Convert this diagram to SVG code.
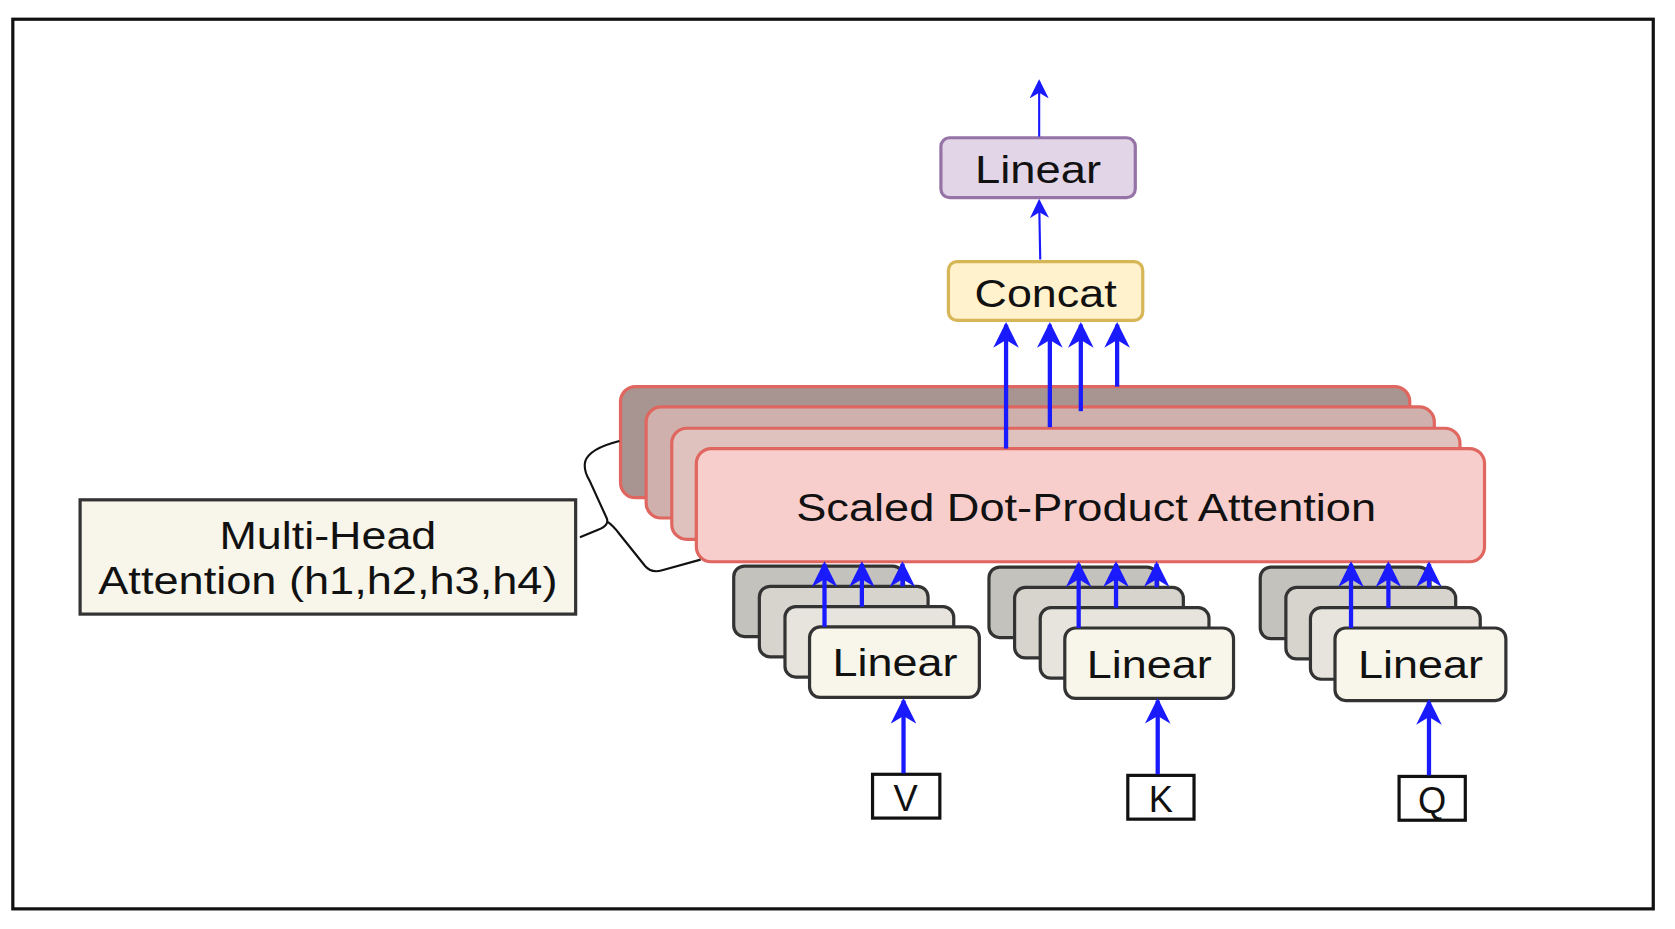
<svg xmlns="http://www.w3.org/2000/svg" width="1675" height="929" viewBox="0 0 1675 929">
<defs>
<marker id="ab" viewBox="0 0 10 10" refX="9" refY="5" markerWidth="6" markerHeight="6" orient="auto" markerUnits="strokeWidth"><path d="M0,0 L10,5 L0,10 L3,5 Z" fill="#1a1aff"/></marker>
<marker id="as" viewBox="0 0 10 10" refX="9" refY="5" markerWidth="9" markerHeight="9" orient="auto" markerUnits="strokeWidth"><path d="M0,0 L10,5 L0,10 L3,5 Z" fill="#1a1aff"/></marker>
<style>
text{font-family:"Liberation Sans",Arial,sans-serif;fill:#111;text-anchor:middle}
.lin{stroke:#333;stroke-width:3}
.l0{fill:#c4c2bc}.l1{fill:#d6d4cc}.l2{fill:#e6e4dc}.l3{fill:#f8f5ea}
.att{stroke:#e06660;stroke-width:3}
.thick{stroke:#1a1aff;stroke-width:4;fill:none;marker-end:url(#ab)}
.thin{stroke:#1a1aff;stroke-width:2;fill:none;marker-end:url(#as)}
.in{fill:#fff;stroke:#111;stroke-width:3}
</style>
</defs>
<rect width="1675" height="929" fill="#fff"/>
<g transform="scale(1.068,1.068)">
<rect x="12" y="18" width="1536" height="833" fill="none" stroke="#111" stroke-width="3"/>
<g id="att">
<rect class="att" x="581" y="362" width="739" height="104" rx="14" fill="#a89490"/>
<rect class="att" x="605" y="381" width="738" height="104" rx="14" fill="#cfb0ac"/>
<rect class="att" x="629" y="401" width="738" height="104" rx="14" fill="#dfc1bd"/>
<rect class="att" x="652" y="420" width="738" height="106" rx="14" fill="#f8cecc"/>
<text x="1017" y="488" font-size="36" textLength="543" lengthAdjust="spacingAndGlyphs">Scaled Dot-Product Attention</text>
</g>
<g id="linearTop"><rect x="881" y="129" width="182" height="56" rx="8" fill="#e1d5e7" stroke="#9673a6" stroke-width="3"/><text x="972" y="171" font-size="36" textLength="118" lengthAdjust="spacingAndGlyphs">Linear</text></g>
<g id="concat"><rect x="888" y="245" width="182" height="55" rx="8" fill="#fff2cc" stroke="#d6b656" stroke-width="3"/><text x="979" y="287" font-size="36" textLength="133" lengthAdjust="spacingAndGlyphs">Concat</text></g>
<g id="mha"><rect x="75" y="468" width="464" height="107" fill="#f8f5ea" stroke="#333" stroke-width="3"/><text x="307" y="514" font-size="36" textLength="203" lengthAdjust="spacingAndGlyphs">Multi-Head</text><text x="307" y="556" font-size="36" textLength="430" lengthAdjust="spacingAndGlyphs">Attention (h1,h2,h3,h4)</text></g>
<g id="linV">
<rect class="lin l0" x="687" y="530" width="159" height="66" rx="10"/><rect class="lin l1" x="711" y="549" width="158" height="66" rx="10"/><rect class="lin l2" x="735" y="568" width="158" height="66" rx="10"/><rect class="lin l3" x="758" y="587" width="159" height="66" rx="10"/><text x="838" y="633" font-size="36" textLength="117" lengthAdjust="spacingAndGlyphs">Linear</text></g>
<g id="linK">
<rect class="lin l0" x="926" y="531" width="158" height="66" rx="10"/><rect class="lin l1" x="950" y="550" width="158" height="66" rx="10"/><rect class="lin l2" x="974" y="569" width="158" height="66" rx="10"/><rect class="lin l3" x="997" y="588" width="158" height="66" rx="10"/><text x="1076" y="635" font-size="36" textLength="117" lengthAdjust="spacingAndGlyphs">Linear</text></g>
<g id="linQ">
<rect class="lin l0" x="1180" y="531" width="159" height="67" rx="10"/><rect class="lin l1" x="1204" y="550" width="159" height="67" rx="10"/><rect class="lin l2" x="1227" y="569" width="159" height="67" rx="10"/><rect class="lin l3" x="1250" y="588" width="160" height="68" rx="10"/><text x="1330" y="635" font-size="36" textLength="117" lengthAdjust="spacingAndGlyphs">Linear</text></g>
<g id="V"><rect class="in" x="817" y="725" width="63" height="41"/><text x="848" y="759" font-size="34">V</text></g>
<g id="K"><rect class="in" x="1056" y="726" width="62" height="41"/><text x="1087" y="760" font-size="34">K</text></g>
<g id="Q"><rect class="in" x="1310" y="727" width="62" height="41"/><text x="1341" y="761" font-size="34">Q</text></g>
<g id="connectors">
<path class="thin" d="M973,128 L973,76"/>
<path class="thin" d="M974,243 L973,188"/>
<path class="thick" d="M942,420 L942,304"/>
<path class="thick" d="M983,400 L983,304"/>
<path class="thick" d="M1012,385 L1012,304"/>
<path class="thick" d="M1046,362 L1046,304"/>
<path class="thick" d="M772,587 L772,528"/>
<path class="thick" d="M807,568 L807,528"/>
<path class="thick" d="M845,549 L845,528"/>
<path class="thick" d="M1010,588 L1010,528"/>
<path class="thick" d="M1045,569 L1045,528"/>
<path class="thick" d="M1083,550 L1083,528"/>
<path class="thick" d="M1265,588 L1265,528"/>
<path class="thick" d="M1300,569 L1300,528"/>
<path class="thick" d="M1338,550 L1338,528"/>
<path class="thick" d="M846,724 L846,656"/>
<path class="thick" d="M1084,725 L1084,656"/>
<path class="thick" d="M1338,726 L1338,657"/>
<path d="M580,413 Q552,420 548,432 Q546,440 552,450 L568,485 Q571,492 560,496 L543,503 M568,488 Q574,492 580,500 L604,530 Q610,537 620,534 L656,524" fill="none" stroke="#111" stroke-width="2"/>
</g>
</g>
</svg>
